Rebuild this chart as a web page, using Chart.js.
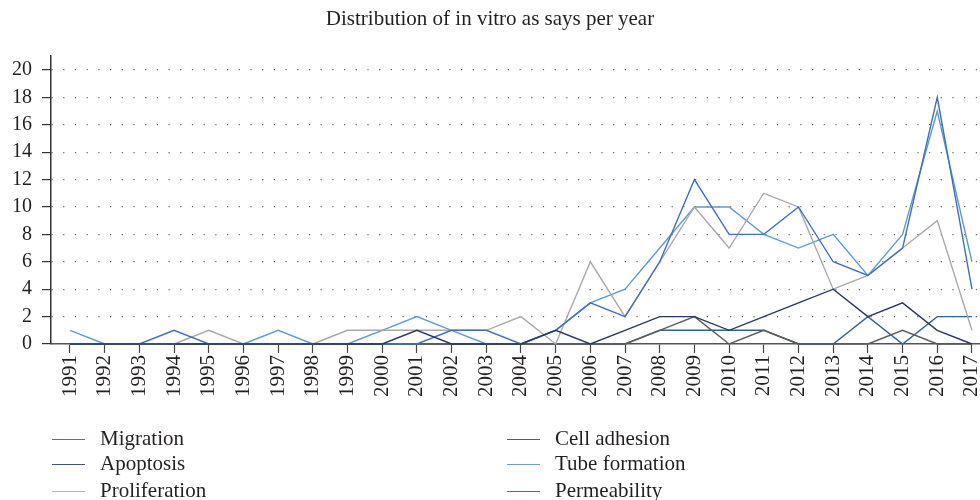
<!DOCTYPE html>
<html>
<head>
<meta charset="utf-8">
<script src="https://cdn.jsdelivr.net/npm/chart.js@4/dist/chart.umd.min.js"></script>
<style>
  html,body{margin:0;padding:0;background:#fff;}
  #wrap{position:relative;width:980px;height:500px;}
  canvas{position:absolute;left:0;top:0;}
  .leg{position:absolute;font-family:"Liberation Serif","Times New Roman",serif;font-size:21px;color:#231f20;line-height:24px;height:24px;white-space:nowrap;}
  .leg span.s{display:inline-block;width:33px;height:0;border-top:1.5px solid #000;vertical-align:middle;margin-right:15px;position:relative;top:-1px;}
</style>
</head>
<body>
<div id="wrap">
<canvas id="c" width="980" height="500"></canvas>
<div id="legend"></div>
</div>
<script>
const years = [1991,1992,1993,1994,1995,1996,1997,1998,1999,2000,2001,2002,2003,2004,2005,2006,2007,2008,2009,2010,2011,2012,2013,2014,2015,2016,2017];
const yTicks = [0,2,4,6,8,10,12,14,16,18,20];
const migration     = [0,0,0,1,0,0,0,0,0,0,0,1,1,0,1,3,2,6,12,8,8,10,6,5,7,18,4];
const apoptosis     = [0,0,0,0,0,0,0,0,0,0,1,0,0,0,1,0,1,2,2,1,2,3,4,2,3,1,0];
const proliferation = [0,0,0,0,1,0,0,0,1,1,1,1,1,2,0,6,2,6,10,7,11,10,4,5,7,9,1];
const cellAdhesion  = [0,0,0,0,0,0,0,0,0,0,0,0,0,0,0,0,0,1,2,0,1,0,0,0,1,0,0];
const tubeFormation = [1,0,0,0,0,0,1,0,0,1,2,1,0,0,1,3,4,7,10,10,8,7,8,5,8,17,6];
const permeability  = [0,0,0,0,0,0,0,0,0,0,0,0,0,0,0,0,0,1,1,1,1,0,0,2,0,2,2];

const series = [
  {label:'Migration', data:migration, color:'#3f6fc1', legColor:'#4a72b8', col:0, row:0, order:1},
  {label:'Apoptosis', data:apoptosis, color:'#26395f', legColor:'#3a5480', col:0, row:1, order:0},
  {label:'Proliferation', data:proliferation, color:'#a9a9a9', legColor:'#b3b3b3', col:0, row:2, order:1},
  {label:'Cell adhesion', data:cellAdhesion, color:'#5c5c5c', legColor:'#5c5c5c', col:1, row:0, order:1},
  {label:'Tube formation', data:tubeFormation, color:'#5b9bd5', legColor:'#6a9fd6', col:1, row:1, order:1},
  {label:'Permeability', data:permeability, color:'#30628f', legColor:'#4a6f9a', col:1, row:2, order:1}
];

const FONT = '"Liberation Serif","Times New Roman",serif';
const TEXT = '#231f20';

const datasets = series.map(s => ({
  label: s.label,
  data: years.map((y,i) => ({x:y, y:s.data[i]})),
  borderColor: s.color,
  backgroundColor: s.color,
  borderWidth: 1.4,
  pointRadius: 0,
  pointHoverRadius: 0,
  tension: 0,
  fill: false,
  order: s.order,
  clip: false
}));

new Chart(document.getElementById('c'), {
  type: 'line',
  data: {datasets},
  options: {
    responsive: false,
    animation: false,
    events: [],
    layout: {padding: {left: 0, right: 0, top: 0, bottom: 96}},
    plugins: {
      legend: {display: false},
      tooltip: {enabled: false},
      title: {
        display: true,
        text: 'Distribution of in vitro as says per year',
        color: TEXT,
        font: {family: FONT, size: 21, weight: 'normal'},
        padding: {top: 7, bottom: 24}
      }
    },
    scales: {
      x: {
        type: 'linear',
        min: 1990.4523,
        max: 2017.232,
        afterBuildTicks: s => { s.ticks = years.map(v => ({value: v})); },
        afterFit: s => { s.height = 60; s.paddingLeft = 0; s.paddingRight = 0; },
        ticks: {
          autoSkip: false,
          minRotation: 90,
          maxRotation: 90,
          padding: 2,
          color: TEXT,
          font: {family: FONT, size: 21},
          callback: v => String(v)
        },
        grid: {
          drawOnChartArea: false,
          drawTicks: true,
          tickLength: 9,
          tickColor: '#444',
          tickWidth: 1.2
        },
        border: {display: true, color: '#555', width: 1.5}
      },
      y: {
        type: 'linear',
        min: 0,
        max: 21,
        afterBuildTicks: s => { s.ticks = yTicks.map(v => ({value: v})); },
        afterFit: s => { s.width = 51; },
        ticks: {
          padding: 10,
          color: TEXT,
          font: {family: FONT, size: 20},
          callback: v => String(v)
        },
        grid: {
          drawOnChartArea: true,
          drawTicks: true,
          tickLength: 9,
          color: c => c.tick && c.tick.value === 0 ? 'rgba(0,0,0,0)' : '#666',
          lineWidth: 1.2,
          tickBorderDash: [],
          tickColor: '#333',
          tickWidth: 1.2
        },
        border: {display: true, color: '#333', width: 1.5, dash: [1.2, 10.5]}
      }
    }
  }
});

// legend (HTML text)
const legend = document.getElementById('legend');
const colX = [52, 507];
const rowY = [426, 451, 478];
series.forEach(s => {
  const d = document.createElement('div');
  d.className = 'leg';
  d.style.left = colX[s.col] + 'px';
  d.style.top = rowY[s.row] + 'px';
  const sw = document.createElement('span');
  sw.className = 's';
  sw.style.borderTopColor = s.legColor;
  d.appendChild(sw);
  d.appendChild(document.createTextNode(s.label));
  legend.appendChild(d);
});
</script>
</body>
</html>
